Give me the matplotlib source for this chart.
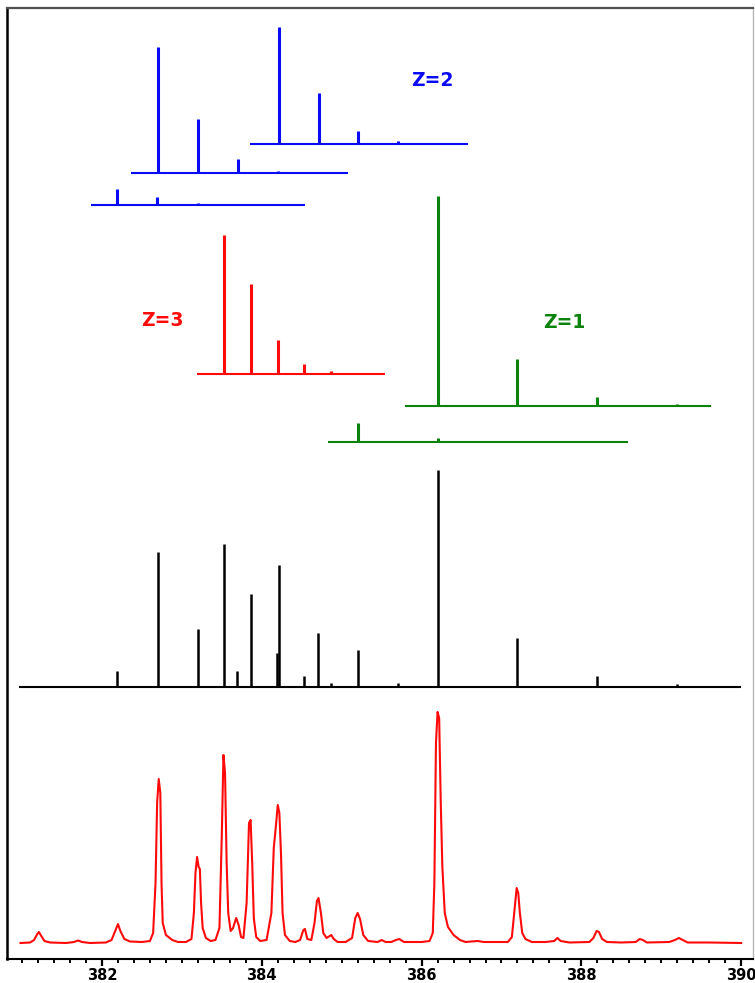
import matplotlib
matplotlib.use('Agg')
import matplotlib.pyplot as plt
from matplotlib.ticker import MultipleLocator

plt.rcParams['font.family'] = ['DejaVu Sans']

# measured spectrum (m/z, intensity)
spec_mz = [380.98, 381.10, 381.15, 381.19, 381.21, 381.24, 381.28, 381.35, 381.55, 381.65,
           381.70, 381.75, 381.85, 382.05, 382.12, 382.17, 382.20, 382.23, 382.28, 382.35,
           382.50, 382.60, 382.64, 382.67, 382.69, 382.71, 382.73, 382.745, 382.76, 382.80,
           382.88, 382.95, 383.05, 383.12, 383.15, 383.17, 383.19, 383.21, 383.225, 383.24,
           383.26, 383.30, 383.36, 383.42, 383.47, 383.50, 383.52, 383.54, 383.56, 383.58,
           383.61, 383.64, 383.68, 383.71, 383.74, 383.77, 383.81, 383.84, 383.86, 383.88,
           383.90, 383.93, 383.98, 384.06, 384.12, 384.15, 384.18, 384.20, 384.22, 384.24,
           384.26, 384.29, 384.35, 384.42, 384.48, 384.52, 384.54, 384.57, 384.62, 384.66,
           384.69, 384.71, 384.74, 384.77, 384.81, 384.85, 384.87, 384.90, 384.95, 385.05,
           385.13, 385.17, 385.20, 385.23, 385.27, 385.33, 385.45, 385.50, 385.55, 385.62,
           385.68, 385.72, 385.78, 385.90, 386.00, 386.10, 386.14, 386.16, 386.18, 386.20,
           386.22, 386.24, 386.26, 386.29, 386.33, 386.40, 386.48, 386.55, 386.70, 386.78,
           386.95, 387.08, 387.13, 387.16, 387.19, 387.21, 387.23, 387.26, 387.30, 387.38,
           387.55, 387.66, 387.70, 387.74, 387.85, 388.10, 388.15, 388.19, 388.22, 388.26,
           388.32, 388.50, 388.68, 388.73, 388.77, 388.82, 389.10, 389.17, 389.22, 389.27,
           389.33, 389.60, 390.00]
spec_int = [0, 0.5, 3, 9, 11, 7, 2, 0.5, 0, 1,
            2.5, 1, 0, 0.5, 3, 13, 19, 12, 4, 1.5,
            1, 2, 10, 60, 140, 164, 150, 60, 20, 8,
            3, 1, 1, 4, 30, 70, 86, 76, 74, 40,
            15, 5, 2, 3, 15, 110, 188, 170, 80, 30,
            12, 15, 25, 18, 6, 5, 40, 120, 123, 80,
            25, 6, 2, 3, 30, 95, 120, 138, 130, 90,
            30, 8, 2, 1, 3, 13, 14, 4, 3, 20,
            42, 45, 30, 10, 5, 7, 8, 4, 1, 1,
            5, 25, 30, 24, 8, 2, 1, 3, 1, 1,
            3, 4, 1, 1, 1, 2, 10, 60, 200, 231,
            225, 140, 76, 30, 16, 8, 3, 1, 2, 1,
            1, 1, 6, 30, 55, 50, 30, 10, 4, 1,
            1, 2, 5, 2, 0.5, 1, 5, 12, 11, 4,
            1, 0.5, 1, 4, 3, 0.5, 1, 3, 5, 3,
            0.5, 0.5, 0]

# combined theoretical pattern
sum_mz = [382.19, 382.70, 383.20, 383.53, 383.69, 383.86, 384.19, 384.22, 384.53,
          384.70, 384.87, 385.20, 385.71, 386.20, 387.20, 388.20, 389.20]
sum_int = [16, 135, 58, 143, 16, 93, 34, 122, 11, 54, 4, 37, 4, 217, 49, 11, 3]

# individual isotope envelopes
z2a_mz = [384.21, 384.71, 385.21, 385.71, 386.21]
z2a_int = [117, 51, 13, 3, 1.5]
z2b_mz = [382.70, 383.20, 383.70, 384.20, 384.70]
z2b_int = [126, 54, 14, 2, 1]
z2c_mz = [382.19, 382.69, 383.20, 383.70]
z2c_int = [16, 8, 2, 1]
z3_mz = [383.53, 383.86, 384.20, 384.53, 384.87, 385.20]
z3_int = [139, 90, 34, 10, 3, 1]
z1a_mz = [386.20, 387.20, 388.20, 389.20]
z1a_int = [210, 47, 9, 2]
z1b_mz = [385.20, 386.20, 387.20, 388.20]
z1b_int = [19, 4, 1.5, 1]

BLUE = '#0a0af5'
GREEN = '#0b820b'
RED = '#ff0a0a'


def draw_sticks(ax, mz, inten, base, xr, color, lw=2.2):
    ax.hlines(base, xr[0], xr[1], color=color, lw=1.5)
    ax.vlines(mz, base, [base + v for v in inten], color=color, lw=lw, capstyle='butt')


fig = plt.figure(figsize=(7.55, 9.83), dpi=100)
ax = fig.add_axes([7/755, 24/983, 746/755, 951/983])
ax.set_xlim(380.811, 390.148)
ax.set_ylim(0, 951)

ax.plot(spec_mz, [16 + v for v in spec_int], color=RED, lw=1.5)

draw_sticks(ax, sum_mz, sum_int, 272, (380.96, 390.0), 'black', lw=1.8)
draw_sticks(ax, z1b_mz, z1b_int, 517, (384.83, 388.58), GREEN)
draw_sticks(ax, z1a_mz, z1a_int, 553, (385.79, 389.62), GREEN)
draw_sticks(ax, z3_mz, z3_int, 585, (383.19, 385.54), RED)
draw_sticks(ax, z2c_mz, z2c_int, 754, (381.86, 384.54), BLUE)
draw_sticks(ax, z2b_mz, z2b_int, 786, (382.36, 385.08), BLUE)
draw_sticks(ax, z2a_mz, z2a_int, 815, (383.85, 386.58), BLUE)

lab = dict(fontsize=13.5, fontweight='bold', ha='center', va='center')
ax.text(386.13, 878, 'Z=2', color=BLUE, **lab)
ax.text(382.76, 639, 'Z=3', color=RED, **lab)
ax.text(387.79, 636, 'Z=1', color=GREEN, **lab)

ax.xaxis.set_major_locator(MultipleLocator(2))
ax.xaxis.set_minor_locator(MultipleLocator(0.2))
ax.tick_params(axis='x', which='major', length=5, width=1.6, direction='out', pad=1.5, labelsize=10.5)
ax.tick_params(axis='x', which='minor', length=3, width=1.4, direction='out')
for t in ax.get_xticklabels():
    t.set_fontweight('bold')
ax.set_yticks([])

ax.spines['left'].set_linewidth(1.8)
ax.spines['bottom'].set_linewidth(1.5)
ax.spines['top'].set_color('#505050')
ax.spines['top'].set_linewidth(1.6)
ax.spines['right'].set_color('#b8b8b8')
ax.spines['right'].set_linewidth(1.0)

fig.savefig('out.png', dpi=100)
